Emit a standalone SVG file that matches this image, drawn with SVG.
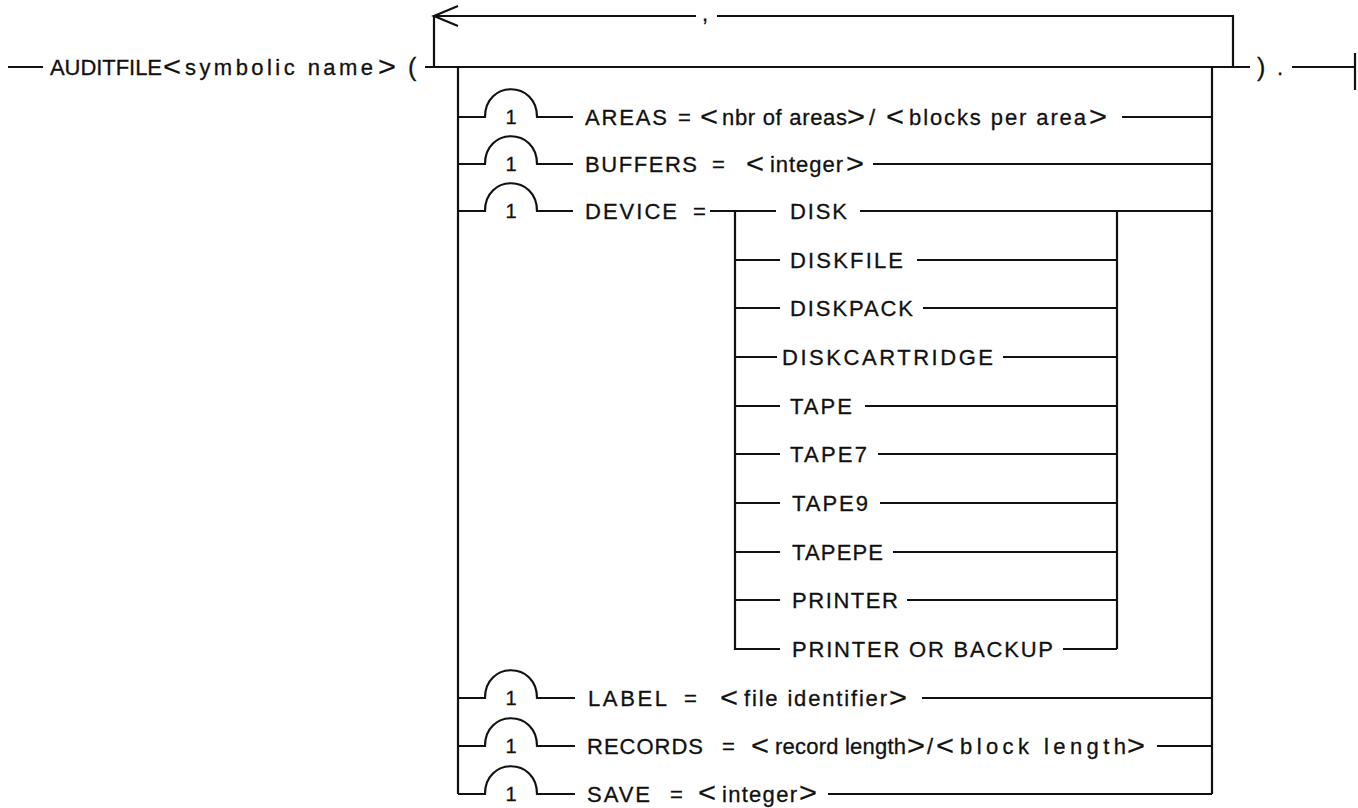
<svg xmlns="http://www.w3.org/2000/svg" width="1358" height="808" viewBox="0 0 1358 808">
<style>
.c{fill:none;stroke:#111;stroke-width:2.2}
.t{font-family:"Liberation Sans",Arial,Helvetica,sans-serif;font-size:22px;fill:#111;stroke:#111;stroke-width:0.3}
.b{font-family:"Liberation Sans",Arial,Helvetica,sans-serif;font-size:28px;fill:#111;stroke:#111;stroke-width:0.2}
.n{font-family:"Liberation Sans",Arial,Helvetica,sans-serif;font-size:20px;fill:#111;text-anchor:middle;stroke:#111;stroke-width:0.3}
.p{font-family:"Liberation Sans",Arial,Helvetica,sans-serif;font-size:25px;fill:#111;stroke:#111;stroke-width:0.3}
</style>
<rect width="1358" height="808" fill="#fff"/>
<g id="connectors" class="c">
<path d="M8,67 H43"/>
<path d="M425,67 H1250"/>
<path d="M434,67 V16 H696 M717,16 H1233 V67"/>
<path d="M458,6 L434,16 L458,26"/>
<path d="M1292,67 H1355 M1355,53 V90"/>
<path d="M458,67 V794"/>
<path d="M1212,67 V794"/>
<path d="M458,117 H485 C485,80 537,80 537,117 H573"/>
<path d="M458,164 H485 C485,127 537,127 537,164 H573"/>
<path d="M458,211 H485 C485,174 537,174 537,211 H573"/>
<path d="M458,698 H485 C485,661 537,661 537,698 H575"/>
<path d="M458,746 H485 C485,709 537,709 537,746 H575"/>
<path d="M458,794 H485 C485,757 537,757 537,794 H575"/>
<path d="M1122,117 H1212"/>
<path d="M873,164 H1212"/>
<path d="M710,211 H776 M860,211 H1212"/>
<path d="M735,211 V649 H780"/>
<path d="M1117,211 V649"/>
<path d="M735,260 H780 M917,260 H1117"/>
<path d="M735,308 H780 M923,308 H1117"/>
<path d="M735,357 H777 M1003,357 H1117"/>
<path d="M735,406 H780 M865,406 H1117"/>
<path d="M735,454 H780 M878,454 H1117"/>
<path d="M735,503 H780 M880,503 H1117"/>
<path d="M735,552 H780 M893,552 H1117"/>
<path d="M735,600 H780 M907,600 H1117"/>
<path d="M1063,649 H1117"/>
<path d="M922,698 H1212"/>
<path d="M1157,746 H1212"/>
<path d="M828,794 H1212"/>
</g>
<g id="header">
<text class="t" x="50" y="75" textLength="112" lengthAdjust="spacing">AUDITFILE</text>
<text class="b" x="163" y="76" textLength="18" lengthAdjust="spacingAndGlyphs">&lt;</text>
<text class="t" x="185" y="75" textLength="188" lengthAdjust="spacing">symbolic name</text>
<text class="b" x="378" y="76" textLength="18" lengthAdjust="spacingAndGlyphs">&gt;</text>
<text class="p" x="408" y="76">(</text>
<text class="t" x="702" y="21">,</text>
<text class="p" x="1257" y="76">)</text>
<text class="t" x="1277" y="75">.</text>
</g>
<g id="areas">
<text class="n" x="511" y="124">1</text>
<text class="t" x="585" y="125" textLength="82" lengthAdjust="spacing">AREAS</text>
<text class="t" x="678" y="125">=</text>
<text class="b" x="700" y="126" textLength="18" lengthAdjust="spacingAndGlyphs">&lt;</text>
<text class="t" x="722" y="125" textLength="125" lengthAdjust="spacing">nbr of areas</text>
<text class="b" x="847" y="126" textLength="18" lengthAdjust="spacingAndGlyphs">&gt;</text>
<text class="t" x="869" y="125">/</text>
<text class="b" x="886" y="126" textLength="18" lengthAdjust="spacingAndGlyphs">&lt;</text>
<text class="t" x="909" y="125" textLength="177" lengthAdjust="spacing">blocks per area</text>
<text class="b" x="1089" y="126" textLength="18" lengthAdjust="spacingAndGlyphs">&gt;</text>
</g>
<g id="buffers">
<text class="n" x="511" y="171">1</text>
<text class="t" x="585" y="172" textLength="112" lengthAdjust="spacing">BUFFERS</text>
<text class="t" x="712" y="172">=</text>
<text class="b" x="746" y="173" textLength="18" lengthAdjust="spacingAndGlyphs">&lt;</text>
<text class="t" x="770" y="172" textLength="73" lengthAdjust="spacing">integer</text>
<text class="b" x="846" y="173" textLength="18" lengthAdjust="spacingAndGlyphs">&gt;</text>
</g>
<g id="device">
<text class="n" x="511" y="218">1</text>
<text class="t" x="585" y="219" textLength="92" lengthAdjust="spacing">DEVICE</text>
<text class="t" x="693" y="219">=</text>
</g>
<g id="dev-disk"><text class="t" x="790" y="219" textLength="57" lengthAdjust="spacing">DISK</text></g>
<g id="dev-diskfile"><text class="t" x="790" y="268" textLength="113" lengthAdjust="spacing">DISKFILE</text></g>
<g id="dev-diskpack"><text class="t" x="790" y="316" textLength="123" lengthAdjust="spacing">DISKPACK</text></g>
<g id="dev-diskcartridge"><text class="t" x="782" y="365" textLength="211" lengthAdjust="spacing">DISKCARTRIDGE</text></g>
<g id="dev-tape"><text class="t" x="790" y="414" textLength="62" lengthAdjust="spacing">TAPE</text></g>
<g id="dev-tape7"><text class="t" x="790" y="462" textLength="77" lengthAdjust="spacing">TAPE7</text></g>
<g id="dev-tape9"><text class="t" x="792" y="511" textLength="76" lengthAdjust="spacing">TAPE9</text></g>
<g id="dev-tapepe"><text class="t" x="792" y="560" textLength="91" lengthAdjust="spacing">TAPEPE</text></g>
<g id="dev-printer"><text class="t" x="792" y="608" textLength="106" lengthAdjust="spacing">PRINTER</text></g>
<g id="dev-printer-backup"><text class="t" x="792" y="657" textLength="261" lengthAdjust="spacing">PRINTER OR BACKUP</text></g>
<g id="label">
<text class="n" x="511" y="705">1</text>
<text class="t" x="588" y="706" textLength="79" lengthAdjust="spacing">LABEL</text>
<text class="t" x="684" y="706">=</text>
<text class="b" x="720" y="707" textLength="18" lengthAdjust="spacingAndGlyphs">&lt;</text>
<text class="t" x="744" y="706" textLength="143" lengthAdjust="spacing">file identifier</text>
<text class="b" x="889" y="707" textLength="18" lengthAdjust="spacingAndGlyphs">&gt;</text>
</g>
<g id="records">
<text class="n" x="511" y="753">1</text>
<text class="t" x="587" y="754" textLength="116" lengthAdjust="spacing">RECORDS</text>
<text class="t" x="722" y="754">=</text>
<text class="b" x="751" y="755" textLength="18" lengthAdjust="spacingAndGlyphs">&lt;</text>
<text class="t" x="775" y="754" textLength="131" lengthAdjust="spacing">record length</text>
<text class="b" x="907" y="755" textLength="18" lengthAdjust="spacingAndGlyphs">&gt;</text>
<text class="t" x="927" y="754">/</text>
<text class="b" x="936" y="755" textLength="18" lengthAdjust="spacingAndGlyphs">&lt;</text>
<text class="t" x="960" y="754" textLength="166" lengthAdjust="spacing">block length</text>
<text class="b" x="1127" y="755" textLength="18" lengthAdjust="spacingAndGlyphs">&gt;</text>
</g>
<g id="save">
<text class="n" x="511" y="801">1</text>
<text class="t" x="587" y="802" textLength="63" lengthAdjust="spacing">SAVE</text>
<text class="t" x="670" y="802">=</text>
<text class="b" x="698" y="802" textLength="18" lengthAdjust="spacingAndGlyphs">&lt;</text>
<text class="t" x="722" y="802" textLength="75" lengthAdjust="spacing">integer</text>
<text class="b" x="799" y="802" textLength="18" lengthAdjust="spacingAndGlyphs">&gt;</text>
</g>
</svg>
